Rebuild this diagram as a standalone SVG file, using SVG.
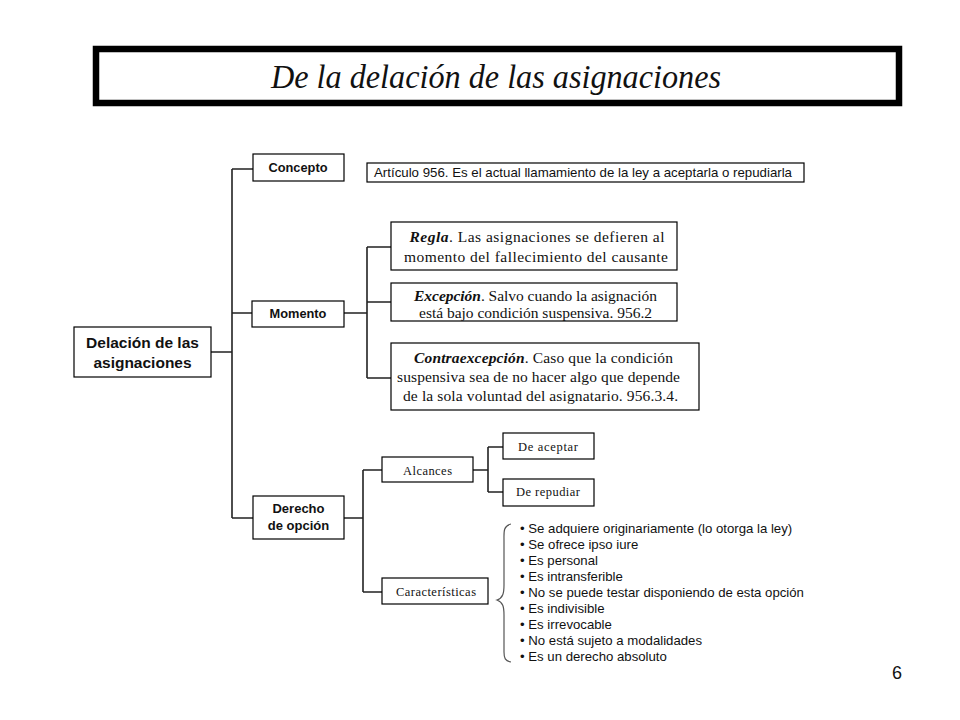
<svg xmlns="http://www.w3.org/2000/svg" width="960" height="720" viewBox="0 0 960 720">
<style>
.box{fill:#fff;stroke:#000;stroke-width:1.2}
.conn{fill:none;stroke:#222;stroke-width:1.6}
.sb{font-family:"Liberation Sans",Arial,sans-serif;font-weight:bold;fill:#111;text-anchor:middle}
.s{font-family:"Liberation Sans",Arial,sans-serif;fill:#111}
.t{font-family:"Liberation Serif","Times New Roman",serif;fill:#111;text-anchor:middle}
</style>
<rect width="960" height="720" fill="#fff"/>
<g id="title">
<rect x="96" y="49" width="803" height="54" fill="#fff" stroke="#000" stroke-width="6.5"/>
<text x="496" y="88" font-family="'Liberation Serif','Times New Roman',serif" font-style="italic" font-size="33" text-anchor="middle" textLength="450" lengthAdjust="spacingAndGlyphs" fill="#111">De la delación de las asignaciones</text>
</g>
<g id="connectors">
<path class="conn" d="M211 352H232M232 169V518M232 169H253M232 313H252M232 518H253"/>
<path class="conn" d="M344 313H367M367 247V378M367 247H391M367 302H391M367 378H391"/>
<path class="conn" d="M344 518H363M363 470V592M363 470H382M363 592H382"/>
<path class="conn" d="M473 470H488M488 447V492M488 447H503M488 492H503"/>
<path fill="none" stroke="#555" stroke-width="1.2" d="M511 524C503 526 504 532 504 540V585C504 593 503 598 497 600C503 602 504 607 504 615V652C504 658 505 661 511 662"/>
</g>
<g id="n-delacion">
<rect class="box" x="74" y="327" width="137" height="50"/>
<text class="sb" font-size="15.5" x="142.5" y="348">Delación de las</text>
<text class="sb" font-size="15.5" x="142.5" y="368">asignaciones</text>
</g>
<g id="n-concepto">
<rect class="box" x="253" y="154" width="91" height="27"/>
<text class="sb" font-size="12.8" x="298" y="172">Concepto</text>
</g>
<g id="n-articulo">
<rect class="box" x="367" y="163" width="437" height="19"/>
<text class="s" font-size="13" x="583" y="177" text-anchor="middle" textLength="418" lengthAdjust="spacingAndGlyphs">Artículo 956. Es el actual llamamiento de la ley a aceptarla o repudiarla</text>
</g>
<g id="n-momento">
<rect class="box" x="252" y="301" width="92" height="26"/>
<text class="sb" font-size="12.8" x="298" y="318">Momento</text>
</g>
<g id="n-regla">
<rect class="box" x="391" y="222" width="286" height="48"/>
<text class="t" font-size="15.5" x="537" y="242" textLength="255"><tspan font-weight="bold" font-style="italic">Regla</tspan>. Las asignaciones se defieren al</text>
<text class="t" font-size="15.5" x="536" y="262" textLength="264">momento del fallecimiento del causante</text>
</g>
<g id="n-excepcion">
<rect class="box" x="391" y="283" width="286" height="38"/>
<text class="t" font-size="15.5" x="535.5" y="301" textLength="243"><tspan font-weight="bold" font-style="italic">Excepción</tspan>. Salvo cuando la asignación</text>
<text class="t" font-size="15.5" x="535.5" y="318" textLength="233">está bajo condición suspensiva. 956.2</text>
</g>
<g id="n-contra">
<rect class="box" x="391" y="343" width="308" height="67"/>
<text class="t" font-size="15.5" x="543.5" y="363" textLength="259"><tspan font-weight="bold" font-style="italic">Contraexcepción</tspan>. Caso que la condición</text>
<text class="t" font-size="15.5" x="538.5" y="382" textLength="283">suspensiva sea de no hacer algo que depende</text>
<text class="t" font-size="15.5" x="540.5" y="401" textLength="275">de la sola voluntad del asignatario. 956.3.4.</text>
</g>
<g id="n-derecho">
<rect class="box" x="253" y="496" width="91" height="43"/>
<text class="sb" font-size="13" x="298.5" y="513">Derecho</text>
<text class="sb" font-size="13" x="298.5" y="530">de opción</text>
</g>
<g id="n-alcances">
<rect class="box" x="382" y="457" width="91" height="25"/>
<text class="t" font-size="12.5" x="427.5" y="475" textLength="49">Alcances</text>
</g>
<g id="n-aceptar">
<rect class="box" x="503" y="433" width="91" height="26"/>
<text class="t" font-size="12.5" x="548" y="451" textLength="60">De aceptar</text>
</g>
<g id="n-repudiar">
<rect class="box" x="503" y="479" width="91" height="27"/>
<text class="t" font-size="12.5" x="548" y="496" textLength="64">De repudiar</text>
</g>
<g id="n-caracteristicas">
<rect class="box" x="382" y="578" width="106" height="26"/>
<text class="t" font-size="12.5" x="436" y="596" textLength="80">Características</text>
</g>
<g id="n-lista" class="s" font-size="13.2">
<text x="520" y="533">• Se adquiere originariamente (lo otorga la ley)</text>
<text x="520" y="549">• Se ofrece ipso iure</text>
<text x="520" y="565">• Es personal</text>
<text x="520" y="581">• Es intransferible</text>
<text x="520" y="597">• No se puede testar disponiendo de esta opción</text>
<text x="520" y="613">• Es indivisible</text>
<text x="520" y="629">• Es irrevocable</text>
<text x="520" y="645">• No está sujeto a modalidades</text>
<text x="520" y="661">• Es un derecho absoluto</text>
</g>
<text class="s" font-size="18" x="897" y="679" text-anchor="middle">6</text>
</svg>
